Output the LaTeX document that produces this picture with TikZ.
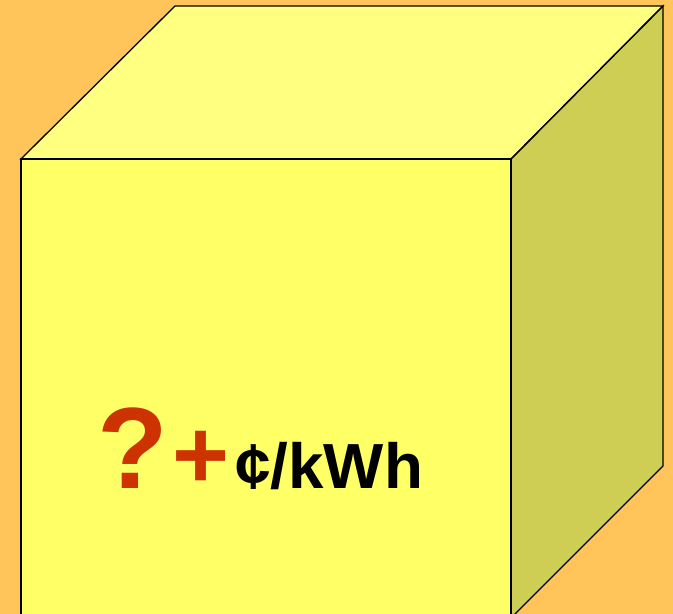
\documentclass[tikz,border=0pt]{standalone}
\usepackage{fontspec}
\setmainfont{Liberation Sans}
\definecolor{bgc}{RGB}{255,196,90}
\definecolor{topc}{RGB}{255,255,128}
\definecolor{frontc}{RGB}{255,255,102}
\definecolor{sidec}{RGB}{206,206,85}
\definecolor{qred}{RGB}{204,51,0}
\tikzset{face/.style={draw=black,line width=1.3bp,line join=miter},
  bigtxt/.style={anchor=base west,inner sep=0,text=qred,font=\bfseries\fontsize{116}{116}\selectfont},
  plustxt/.style={anchor=base west,inner sep=0,text=qred,font=\bfseries\fontsize{98}{98}\selectfont},
  unittxt/.style={anchor=base west,inner sep=0,font=\bfseries\fontsize{64}{64}\selectfont}}
\begin{document}
\begin{tikzpicture}[x=1bp,y=-1bp]
\fill[bgc] (0,0) rectangle (673,614);
\useasboundingbox (0,0) rectangle (673,614);
\begin{scope}
\clip (0,0) rectangle (673,614);
\fill[fill=topc] (21,159) -- (175,6) -- (663,6) -- (511,159) -- cycle;
\fill[fill=sidec] (511,159) -- (663,6) -- (663,466) -- (511,618) -- cycle;
\fill[fill=frontc] (21,159) -- (511,159) -- (511,620) -- (21,620) -- cycle;
\draw[face] (21,159) -- (175,6) -- (663,6) -- (511,159) -- cycle;
\draw[face] (511,159) -- (663,6) -- (663,466) -- (511,618);
\draw[face] (21,620) -- (21,159) -- (511,159) -- (511,620);
\end{scope}
\node[bigtxt] (q) at (97,488) {?};
\node[plustxt] (plus) at (172,488) {+};
\node[unittxt] (unit) at (235,488) {¢/kWh};
\end{tikzpicture}
\end{document}
